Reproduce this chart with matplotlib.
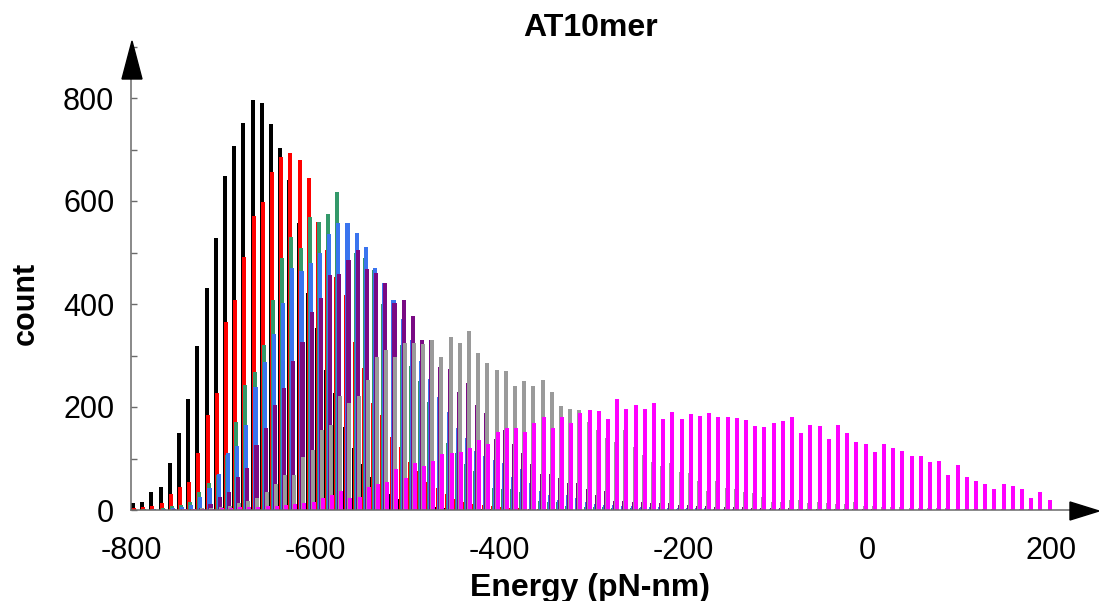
import numpy as np
import matplotlib
matplotlib.use("Agg")
import matplotlib.pyplot as plt
from matplotlib.patches import Polygon
from matplotlib.ticker import MultipleLocator

plt.rcParams['font.family'] = ['Liberation Sans', 'DejaVu Sans']

# ---------------- data ----------------
bin_start = -800
bin_width = 10
n_bins = 100

black = [14, 16, 34, 45, 91, 149, 216, 319, 432, 528, 649, 707, 751, 796, 791, 749, 702, 641, 557, 421, 353,
         272, 227, 162, 120, 90, 65, 45, 32, 22, 15, 10, 7, 5, 4, 3, 2, 2, 1, 1, 1]
red = [3, 5, 8, 13, 31, 45, 55, 110, 184, 227, 366, 408, 492, 570, 599, 657, 686, 694, 680, 645, 560,
       505, 453, 417, 327, 275, 208, 184, 142, 123, 94, 75, 55, 42, 32, 22, 16, 12, 9, 7, 5,
       4, 3, 2, 2, 1, 1, 1]
green = [0, 1, 2, 3, 8, 10, 15, 34, 53, 68, 107, 171, 243, 267, 320, 408, 489, 530, 508, 568, 560,
         574, 618, 530, 500, 490, 466, 400, 350, 320, 280, 250, 210, 170, 130, 110, 90, 75, 65, 42, 40,
         40, 35, 17, 17, 15, 15, 8, 8, 6, 6, 5, 4, 4, 3, 3, 2, 2, 2, 1, 1]
blue = [0, 0, 1, 2, 3, 5, 10, 26, 42, 69, 111, 124, 165, 239, 288, 342, 401, 470, 465, 480, 500,
        535, 558, 558, 537, 511, 470, 440, 408, 370, 330, 290, 255, 220, 190, 160, 140, 115, 105, 98, 91,
        65, 80, 53, 37, 30, 19, 30, 23, 15, 12, 10, 9, 8, 7, 6, 5, 5, 4, 4, 3,
        3, 3, 2, 2, 2, 2, 1, 1, 1, 1]
purple = [0, 0, 0, 0, 1, 1, 2, 3, 12, 26, 34, 65, 81, 126, 159, 204, 236, 289, 327, 385, 411,
          456, 458, 485, 505, 467, 460, 440, 401, 408, 377, 330, 330, 277, 273, 230, 246, 204, 188, 138, 155,
          128, 110, 89, 70, 70, 63, 53, 53, 41, 30, 37, 18, 17, 15, 15, 14, 14, 13, 10, 9,
          8, 7, 6, 6, 5, 5, 4, 4, 3, 3, 3, 2, 2, 2, 2, 1, 1, 1, 1, 1]
gray = [0, 0, 0, 0, 0, 1, 2, 3, 4, 6, 8, 14, 18, 23, 34, 50, 68, 68, 103, 117, 155,
        165, 221, 207, 221, 252, 298, 311, 298, 325, 325, 322, 330, 298, 335, 324, 348, 304, 285, 272, 270,
        241, 250, 240, 252, 230, 202, 196, 194, 170, 155, 140, 133, 155, 123, 107, 94, 85, 91, 74, 72,
        57, 36, 57, 42, 40, 34, 33, 26, 16, 16, 20, 20, 14, 16, 14, 12, 12, 16, 8, 7,
        6, 5, 5, 4, 4, 3, 3, 3, 2, 2, 2, 2, 1, 1, 1, 1, 1, 0, 0]
magenta = [0, 0, 0, 0, 0, 1, 1, 2, 2, 3, 4, 5, 5, 6, 7, 8, 10, 12,
           13, 16, 23, 29, 36, 23, 26, 45, 50, 55, 80, 62, 91, 85, 95, 109, 111, 112, 120, 136, 128, 151,
           159, 159, 151, 168, 181, 159, 181, 168, 188, 194, 193, 177, 215, 197, 203, 196, 207, 177, 190,
           177, 186, 182, 188, 180, 181, 179, 175, 164, 162, 169, 173, 181, 150, 165, 163, 138, 165, 149, 133,
           129, 113, 129, 120, 115, 105, 105, 94, 95, 68, 87, 65, 56, 50, 41, 50, 47, 40, 23, 34, 19]

series = [black, red, green, blue, purple, gray, magenta]
colors = ['#000000', '#ff0000', '#33996a', '#3a74ee', '#7a0a84', '#9a9a9a', '#ff00ff']

x_ticks = [-800, -600, -400, -200, 0, 200]
y_ticks = [0, 200, 400, 600, 800]

# ---------------- figure ----------------
W, H = 1099, 601
fig = plt.figure(figsize=(W / 100, H / 100), dpi=100)

ax_left_px, ax_right_px = 131, 1099
ax_bottom_px, ax_top_px = 510, 42
ax = fig.add_axes([ax_left_px / W, (H - ax_bottom_px) / H,
                   (ax_right_px - ax_left_px) / W, (ax_bottom_px - ax_top_px) / H])
px_per_x = 0.92
px_per_y = 0.515
ax.set_xlim(-800, -800 + (ax_right_px - ax_left_px) / px_per_x)
ax.set_ylim(0, (ax_bottom_px - ax_top_px) / px_per_y)

edges = bin_start + bin_width * np.arange(n_bins)
bar_w = 4.4
step = 1.05
for i, (vals, c) in enumerate(zip(series, colors)):
    v = np.zeros(n_bins)
    v[:len(vals)] = vals
    ax.bar(edges + i * step, v, width=bar_w, align='edge', color=c, linewidth=0, zorder=2 + i * 0.01)

# axes styling
for s in ['top', 'right']:
    ax.spines[s].set_visible(False)
axis_color = '#6a6a6a'
ax.spines['left'].set_color(axis_color)
ax.spines['bottom'].set_color(axis_color)
ax.spines['left'].set_linewidth(1.1)
ax.spines['bottom'].set_linewidth(1.1)
ax.spines['left'].set_bounds(0, (ax_bottom_px - 78) / px_per_y)
ax.spines['bottom'].set_bounds(-800, -800 + (1072 - ax_left_px) / px_per_x)
ax.spines['left'].set_zorder(5)
ax.spines['bottom'].set_zorder(5)

ax.set_xticks(x_ticks)
ax.set_xticklabels([str(t) for t in x_ticks])
ax.set_yticks(y_ticks)
ax.yaxis.set_minor_locator(MultipleLocator(100))
ax.tick_params(axis='x', length=0, pad=19, labelsize=22)
ax.tick_params(axis='y', which='both', direction='in', length=4, width=1, color=axis_color,
               pad=12, labelsize=22)
ax.patch.set_alpha(0)

# arrow heads (figure pixel coords)
def fpx(x, y):
    return (x / W, 1 - y / H)

fig.patches.append(Polygon([fpx(132, 41), fpx(122, 79), fpx(142, 79)], closed=True,
                           transform=fig.transFigure, color='black', zorder=10))
fig.patches.append(Polygon([fpx(1099, 511), fpx(1070, 502), fpx(1070, 520)], closed=True,
                           transform=fig.transFigure, color='black', zorder=10))

# texts
fig.text(591 / W, 1 - 28 / H, 'AT10mer', ha='center', va='center', fontsize=23, fontweight='bold')
fig.text(590 / W, 1 - 596 / H, 'Energy (pN-nm)', ha='center', va='baseline', fontsize=23, fontweight='bold')
fig.text(26 / W, 1 - 303 / H, 'count', ha='center', va='center', rotation=90, fontsize=22, fontweight='bold')

fig.savefig('out.png', dpi=100)
